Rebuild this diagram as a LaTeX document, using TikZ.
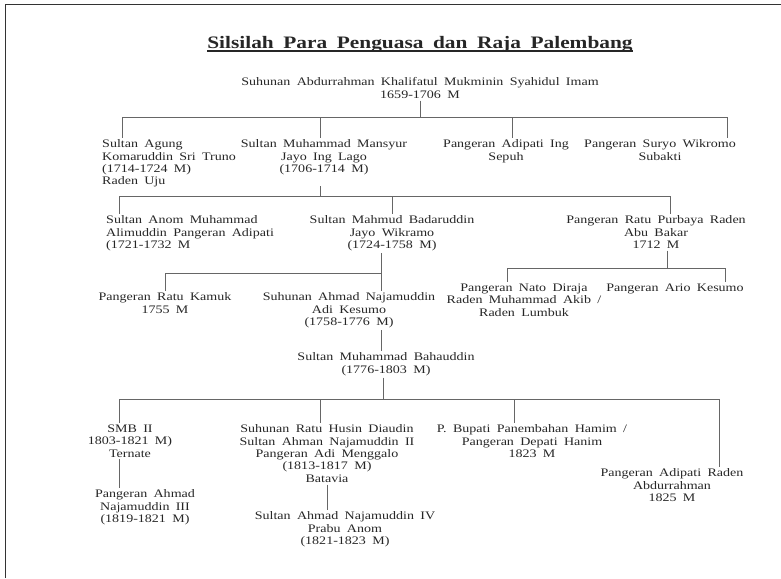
\documentclass[tikz,border=0pt]{standalone}
\usepackage{fontspec}
\setmainfont{Liberation Serif}[FakeStretch=1.22,WordSpace=1.8]
\newcommand{\titul}[1]{\setbox0\hbox{#1}\rlap{\rule[-3.4pt]{\wd0}{1.4pt}}\box0}
\newcommand{\estem}[2]{\draw[conn] (#1)--(#2);}
\newcommand{\ebranch}[3]{\draw[conn] (#1) -| (#2.north -| #3,0);}

\begin{document}
\begin{tikzpicture}[x=1pt,y=-1pt,
  every node/.style={inner sep=2pt,text=black!85,font=\fontsize{11.5}{12.4}\selectfont},
  person/.style={align=center,anchor=north},
  conn/.style={line width=.9pt,black!60}]
  \useasboundingbox (0,0) rectangle (781,578);
  \draw[line width=1.4pt,black!80] (5.5,578)--(5.5,4.7)--(781,4.7);

  \node[anchor=base,font=\bfseries\fontsize{17.5}{20}\selectfont] (title) at (420,48.5)
    {\titul{Silsilah Para Penguasa dan Raja Palembang}};

  \node[person] (root) at (420,75.5)
    {Suhunan Abdurrahman Khalifatul Mukminin Syahidul Imam\\1659-1706 M};

  \node[person,align=left,anchor=north west] (agung) at (100,137.5)
    {Sultan Agung\\Komaruddin Sri Truno\\(1714-1724 M)\\Raden Uju};
  \node[person] (mansyur) at (324,137.5) {Sultan Muhammad Mansyur\\Jayo Ing Lago\\(1706-1714 M)};
  \node[person] (adipati) at (506,137.5) {Pangeran Adipati Ing\\Sepuh};
  \node[person] (suryo)   at (660,137.5) {Pangeran Suryo Wikromo\\Subakti};

  \node[person,align=left,anchor=north west] (anom) at (104,213.5)
    {Sultan Anom Muhammad\\Alimuddin Pangeran Adipati\\(1721-1732 M};
  \node[person] (badar)   at (392,213.5) {Sultan Mahmud Badaruddin\\Jayo Wikramo\\(1724-1758 M)};
  \node[person] (purbaya) at (656,213.5) {Pangeran Ratu Purbaya Raden\\Abu Bakar\\1712 M};

  \node[person] (kamuk) at (165,290.5) {Pangeran Ratu Kamuk\\1755 M};
  \node[person] (najam) at (349,290.5) {Suhunan Ahmad Najamuddin\\Adi Kesumo\\(1758-1776 M)};
  \node[person] (nato)  at (524,281.5) {Pangeran Nato Diraja\\Raden Muhammad Akib /\\Raden Lumbuk};
  \node[person] (ario)  at (675,281.5) {Pangeran Ario Kesumo};

  \node[person] (bahau) at (386,350.5) {Sultan Muhammad Bahauddin\\(1776-1803 M)};

  \node[person] (smb)    at (130,422.5) {SMB II\\1803-1821 M)\\Ternate};
  \node[person] (husin)  at (327,422.5)
    {Suhunan Ratu Husin Diaudin\\Sultan Ahman Najamuddin II\\Pangeran Adi Menggalo\\(1813-1817 M)\\Batavia};
  \node[person] (bupati) at (532,422.5) {P. Bupati Panembahan Hamim /\\Pangeran Depati Hanim\\1823 M};
  \node[person] (raden)  at (672,466.5) {Pangeran Adipati Raden\\Abdurrahman\\1825 M};

  \node[person] (ahmad)   at (145,487.5) {Pangeran Ahmad\\Najamuddin III\\(1819-1821 M)};
  \node[person] (najamiv) at (345,509.5) {Sultan Ahmad Najamuddin IV\\Prabu Anom\\(1821-1823 M)};

  % first generation
  \coordinate (f1) at (420,117);
  \estem{root.south}{f1}
  \ebranch{f1}{agung}{122}\ebranch{f1}{mansyur}{320}
  \ebranch{f1}{adipati}{512}\ebranch{f1}{suryo}{727}
  % children of Mansyur
  \coordinate (f2) at (320,196);
  \draw[conn,shorten <=9pt] (mansyur.south -| f2)--(f2);
  \ebranch{f2}{anom}{119}\ebranch{f2}{badar}{392}\ebranch{f2}{purbaya}{670}
  % children of Badaruddin
  \coordinate (f3) at (381,273);
  \estem{badar.south -| f3}{najam.north -| f3}
  \ebranch{f3}{kamuk}{165}
  \estem{najam.south -| f3}{bahau.north -| f3}
  % children of Purbaya
  \coordinate (f4) at (667,268);
  \estem{purbaya.south -| f4}{f4}
  \ebranch{f4}{nato}{507}\ebranch{f4}{ario}{725}
  % children of Bahauddin
  \coordinate (f5) at (383,399);
  \estem{bahau.south -| f5}{f5}
  \ebranch{f5}{smb}{119}\ebranch{f5}{husin}{320}
  \ebranch{f5}{bupati}{514}\ebranch{f5}{raden}{719}
  \estem{smb.south -| 119,0}{ahmad.north -| 119,0}
  \estem{husin.south}{najamiv.north -| husin.south}
\end{tikzpicture}
\end{document}
